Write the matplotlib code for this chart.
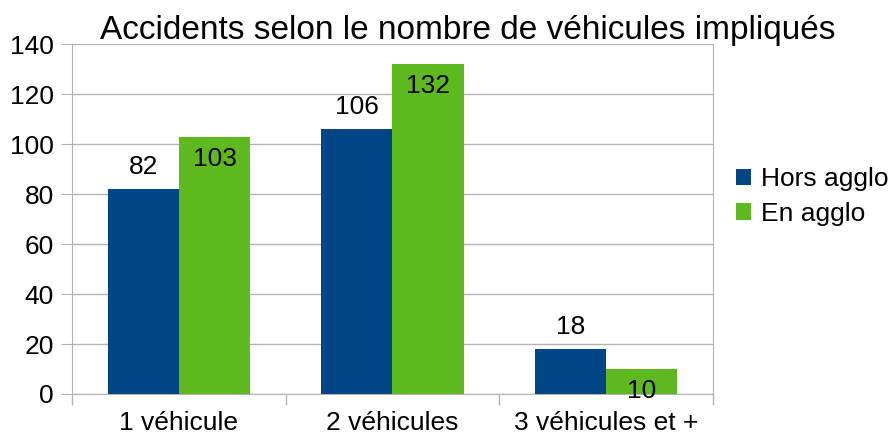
import matplotlib
matplotlib.use("Agg")
import matplotlib.pyplot as plt
import numpy as np

# Data
categories = ["1 véhicule", "2 véhicules", "3 véhicules et +"]
hors_agglo = [82, 106, 18]
en_agglo = [103, 132, 10]
series_names = ["Hors agglo", "En agglo"]

plt.rcParams["font.family"] = ["Liberation Sans", "DejaVu Sans"]

fig = plt.figure(figsize=(8.9, 4.37), dpi=100)
ax = fig.add_axes([0.0809, 0.0984, 0.7202, 0.8009])

x = np.arange(len(categories))
w = 1 / 3
b1 = ax.bar(x - w / 2, hors_agglo, w, color="#004586", label=series_names[0], zorder=3)
b2 = ax.bar(x + w / 2, en_agglo, w, color="#5eb91e", label=series_names[1], zorder=3)

# value labels: first series above the bar top, second just below it
for bars, off in ((b1, 16), (b2, -16)):
    for rect in bars:
        h = rect.get_height()
        ax.annotate(str(h), (rect.get_x() + rect.get_width() / 2, h),
                    xytext=(0, off), textcoords="offset points",
                    ha="center", va="center", fontsize=19, zorder=4)

ax.set_xlim(-0.5, 2.5)
ax.set_ylim(0, 140)
ax.set_yticks(range(0, 141, 20))
ax.set_xticks([-0.5, 0.5, 1.5, 2.5])
ax.set_xticklabels([])
ax.set_xticks(x, minor=True)
ax.set_xticklabels(categories, minor=True)
ax.tick_params(axis="x", which="minor", length=0, labelsize=19, pad=12)
ax.tick_params(axis="x", which="major", length=8, color="#b3b3b3", width=1)
ax.tick_params(axis="y", length=8, color="#b3b3b3", labelsize=19, pad=5)

ax.grid(axis="y", color="#b3b3b3", linewidth=1, zorder=0)
ax.spines["top"].set_visible(False)
for s in ["left", "right", "bottom"]:
    ax.spines[s].set_color("#b3b3b3")
    ax.spines[s].set_zorder(2)

fig.text(0.525, 1 - 39 / 437, "Accidents selon le nombre de véhicules impliqués",
         fontsize=24, ha="center", va="baseline")

ax.legend(loc="center left", bbox_to_anchor=(1.036, 0.564), frameon=False,
          fontsize=19, handlelength=0.58, handleheight=0.58, handletextpad=0.35,
          labelspacing=0.4, borderpad=0, borderaxespad=0)

fig.savefig("out.png", dpi=100)
